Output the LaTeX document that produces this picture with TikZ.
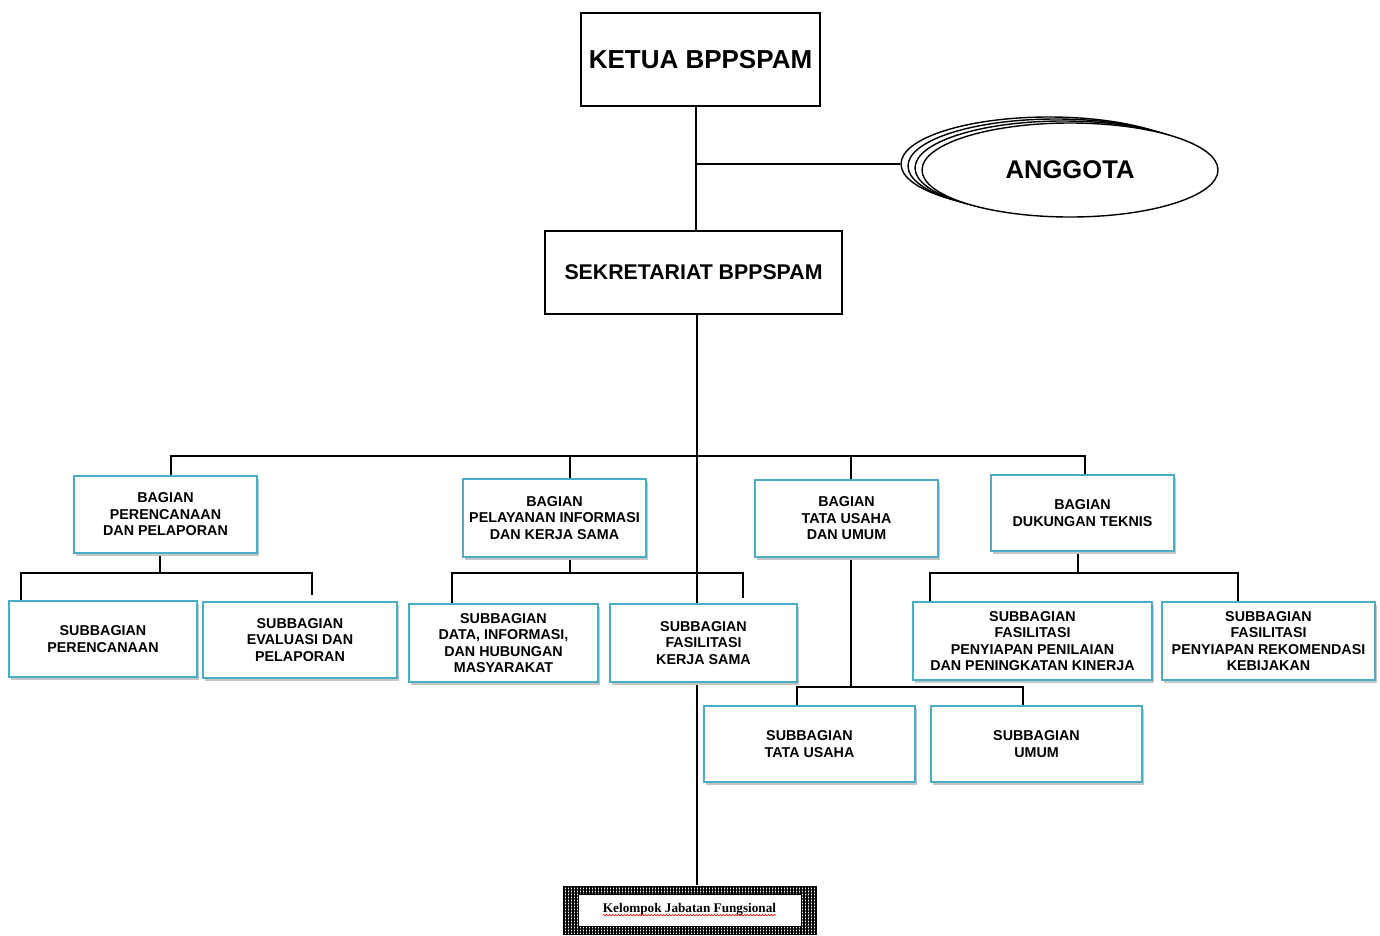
\documentclass[tikz,border=0pt]{standalone}
\usepackage{fontspec}
\setmainfont{Liberation Sans}
\newfontfamily\kjffont{Liberation Serif}
\usetikzlibrary{shadows,backgrounds,patterns.meta,decorations.pathmorphing,shapes.geometric}
\definecolor{aqua}{HTML}{4BACC6}
\begin{document}
\begin{tikzpicture}[x=1pt,y=-1pt,
  unit/.style={draw=aqua, line width=1.8pt, fill=white, align=center, inner sep=0pt,
    font=\bfseries\fontsize{14.3}{16.5}\selectfont,
    drop shadow={shadow xshift=2pt, shadow yshift=-3pt, fill=gray!45, opacity=1}},
  topbox/.style={draw=black, fill=white, align=center, inner sep=0pt},
  anggota/.style={ellipse, draw=black, line width=1.4pt, fill=white, minimum width=296pt, minimum height=94pt, inner sep=0pt},
  conn/.style={line width=2.6pt, draw=black, line join=miter}
]
\useasboundingbox (0,0) rectangle (1380,935);

% top
\node[topbox, line width=2pt, minimum width=239pt, minimum height=93pt, font=\bfseries\fontsize{26}{29}\selectfont] (ketua) at (700.5,59.5) {KETUA BPPSPAM};
\node[topbox, line width=1.5pt, minimum width=297pt, minimum height=83pt, font=\bfseries\fontsize{21.3}{24}\selectfont] (sek) at (693.5,272.5) {SEKRETARIAT BPPSPAM};

% anggota stack
\node[anggota] (a3) at (1049,164) {};
\node[anggota] (a2) at (1056,166) {};
\node[anggota] (a1) at (1063,168) {};
\node[anggota, font=\bfseries\fontsize{25.6}{28}\selectfont] (a0) at (1070,170) {ANGGOTA};

% bagian
\node[unit, minimum width=183pt, minimum height=77pt] (b1) at (165.5,514.5) {BAGIAN\\PERENCANAAN\\DAN PELAPORAN};
\node[unit, minimum width=183pt, minimum height=78pt] (b2) at (554.5,518) {BAGIAN\\PELAYANAN INFORMASI\\DAN KERJA SAMA};
\node[unit, minimum width=183pt, minimum height=77pt] (b3) at (846.5,518.5) {BAGIAN\\TATA USAHA\\DAN UMUM};
\node[unit, minimum width=183pt, minimum height=76pt] (b4) at (1082.5,513) {BAGIAN\\DUKUNGAN TEKNIS};

% subbagian
\node[unit, minimum width=188pt, minimum height=76pt] (s1) at (103,639) {SUBBAGIAN\\PERENCANAAN};
\node[unit, minimum width=194pt, minimum height=76pt] (s2) at (300,640) {SUBBAGIAN\\EVALUASI DAN\\PELAPORAN};
\node[unit, minimum width=189pt, minimum height=78pt] (s3) at (503.5,643) {SUBBAGIAN\\DATA, INFORMASI,\\DAN HUBUNGAN\\MASYARAKAT};
\node[unit, minimum width=187pt, minimum height=78pt] (s4) at (703.5,643) {SUBBAGIAN\\FASILITASI\\KERJA SAMA};
\node[unit, minimum width=239pt, minimum height=78pt] (s5) at (1032.5,641) {SUBBAGIAN\\FASILITASI\\PENYIAPAN PENILAIAN\\DAN PENINGKATAN KINERJA};
\node[unit, minimum width=213pt, minimum height=78pt] (s6) at (1268.5,641) {SUBBAGIAN\\FASILITASI\\PENYIAPAN REKOMENDASI\\KEBIJAKAN};
\node[unit, minimum width=211pt, minimum height=76pt] (s7) at (809.5,744) {SUBBAGIAN\\TATA USAHA};
\node[unit, minimum width=211pt, minimum height=76pt] (s8) at (1036.5,744) {SUBBAGIAN\\UMUM};

% kelompok jabatan fungsional
\node[draw=black, line width=1pt, pattern={Hatch[distance=3pt, line width=1.3pt]}, minimum width=253pt, minimum height=48pt, inner sep=0pt] (kjfo) at (689.5,910) {};
\node[draw=black, line width=0.8pt, fill=white, minimum width=223pt, minimum height=32pt, inner sep=0pt] (kjfi) at (689.5,910) {};
\node[inner sep=0pt, font=\kjffont\bfseries\fontsize{13.2}{15}\selectfont] (kjft) at (689.5,909) {Kelompok Jabatan Fungsional};
\draw[red, line width=0.6pt, decorate, decoration={snake, amplitude=0.7pt, segment length=3pt}]
  ([yshift=-3pt]kjft.base west) -- ([yshift=-3pt]kjft.base east);

% connectors
\begin{scope}[on background layer]
\begin{scope}[every path/.style={conn}]
\coordinate (tk) at (696,164);
\draw (tk |- ketua.south) -- (tk |- sek.north);
\draw (tk) -- (a3.west);
\coordinate (tr) at (697,456);
\draw (tr |- sek.south) -- (tr |- kjfo.north);
\coordinate (bl) at (171,456);
\coordinate (br) at (1085,456);
\coordinate (c2) at (570,456);
\coordinate (c3) at (851,456);
\draw (bl |- b1.north) -- (bl) -- (br) -- (br |- b4.north);
\draw (c2) -- (c2 |- b2.north);
\draw (c3) -- (c3 |- b3.north);
% bagian 1
\coordinate (d1) at (160,573);
\coordinate (d1l) at (21,573);
\coordinate (d1r) at (312,573);
\draw (d1 |- b1.south) -- (d1);
\draw (d1l |- s1.north) -- (d1l) -- (d1r) -- ([yshift=6pt]d1r |- s2.north);
% bagian 2
\coordinate (d2) at (570,573);
\coordinate (d2l) at (452,573);
\coordinate (d2r) at (743,573);
\draw (d2 |- b2.south) -- (d2);
\draw (d2l |- s3.north) -- (d2l) -- (d2r) -- ([yshift=5pt]d2r |- s4.north);
% bagian 3
\coordinate (d3) at (851,687);
\coordinate (d3l) at (797,687);
\coordinate (d3r) at (1023,687);
\draw (d3 |- b3.south) -- (d3);
\draw (d3l |- s7.north) -- (d3l) -- (d3r) -- (d3r |- s8.north);
% bagian 4
\coordinate (d4) at (1078,573);
\coordinate (d4l) at (930,573);
\coordinate (d4r) at (1238,573);
\draw (d4 |- b4.south) -- (d4);
\draw (d4l |- s5.north) -- (d4l) -- (d4r) -- (d4r |- s6.north);
\end{scope}
\end{scope}
\end{tikzpicture}
\end{document}
